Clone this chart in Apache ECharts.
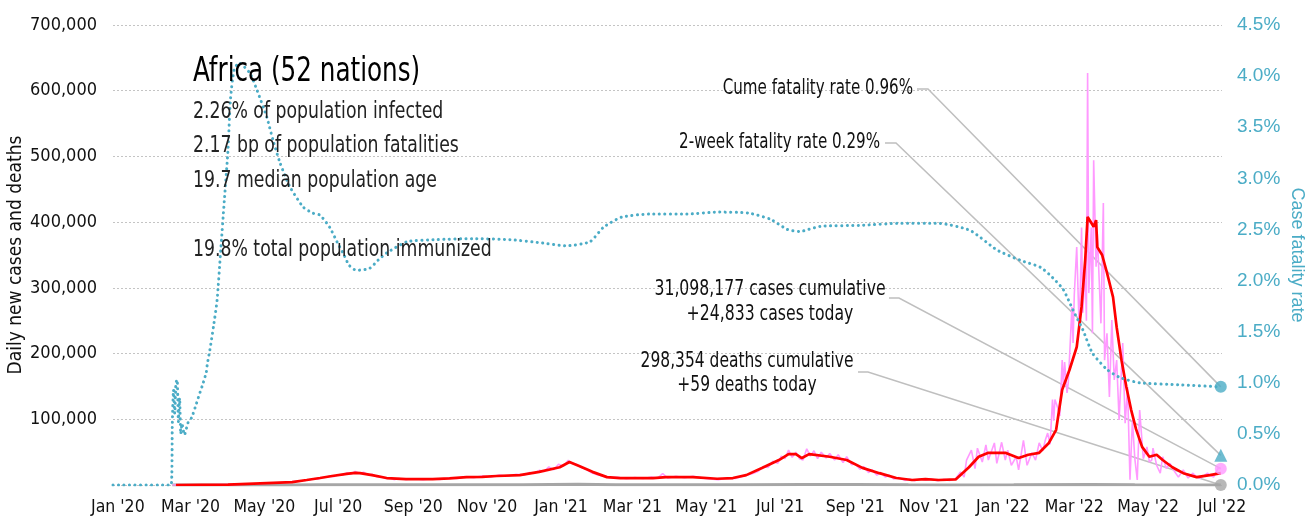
<!DOCTYPE html>
<html>
<head>
<meta charset="utf-8">
<script src="https://cdn.jsdelivr.net/npm/echarts@6/dist/echarts.min.js"></script>
<style>
  html, body { margin: 0; padding: 0; background: #fff; }
  #chart { width: 1310px; height: 522px; }
</style>
</head>
<body>
<div id="chart"></div>
<script>
// ---- Data -------------------------------------------------------------
const regionTitle = 'Africa (52 nations)';
const summaryLines = [
  '2.26% of population infected',
  '2.17 bp of population fatalities',
  '19.7 median population age',
  '',
  '19.8% total population immunized'
];

const lastDate = '2022-06-30';
const cumeRate = 0.96;          // %
const twoWeekRate = 0.29;       // %
const casesCumulative = 31098177;
const casesToday = 24833;
const deathsCumulative = 298354;
const deathsToday = 59;

const tickDates = ['2020-01-01','2020-03-01','2020-05-01','2020-07-01','2020-09-01','2020-11-01',
  '2021-01-01','2021-03-01','2021-05-01','2021-07-01','2021-09-01','2021-11-01',
  '2022-01-01','2022-03-01','2022-05-01','2022-07-01'];
const monthNames = ['Jan','Feb','Mar','Apr','May','Jun','Jul','Aug','Sep','Oct','Nov','Dec'];

// daily new cases
const dailyCases = [
  ['2020-02-15',0],['2020-03-10',100],['2020-03-25',500],['2020-04-08',800],['2020-04-20',1500],
  ['2020-04-29',2200],['2020-05-06',2800],['2020-05-13',3500],['2020-05-20',4200],['2020-05-27',5600],
  ['2020-06-03',6800],['2020-06-07',7600],['2020-06-10',9000],['2020-06-14',8800],['2020-06-17',11000],
  ['2020-06-21',11800],['2020-06-24',13500],['2020-06-28',13200],['2020-07-01',15500],['2020-07-05',15000],
  ['2020-07-08',18500],['2020-07-12',17000],['2020-07-15',20500],['2020-07-19',17500],['2020-07-22',19500],
  ['2020-07-26',15000],['2020-07-29',16500],['2020-08-02',12500],['2020-08-05',13000],['2020-08-09',9800],
  ['2020-08-12',11000],['2020-08-16',8200],['2020-08-20',9800],['2020-08-26',8300],['2020-09-02',9600],
  ['2020-09-09',8200],['2020-09-16',9500],['2020-09-23',8400],['2020-09-30',10600],['2020-10-07',9800],
  ['2020-10-14',12600],['2020-10-21',11200],['2020-10-28',13600],['2020-11-04',12100],['2020-11-11',15200],
  ['2020-11-18',13400],['2020-11-25',16400],['2020-12-02',15300],['2020-12-06',19000],['2020-12-10',17600],
  ['2020-12-14',22300],['2020-12-18',20400],['2020-12-22',27500],['2020-12-26',23200],['2020-12-30',31500],
  ['2021-01-03',28600],['2021-01-07',37500],['2021-01-10',33000],['2021-01-14',31200],['2021-01-18',26500],
  ['2021-01-22',24000],['2021-01-26',18800],['2021-01-30',16200],['2021-02-04',13800],['2021-02-10',11200],
  ['2021-02-17',11800],['2021-02-24',9600],['2021-03-03',11200],['2021-03-10',9900],['2021-03-17',12100],
  ['2021-03-22',10400],['2021-03-26',17500],['2021-03-30',10500],['2021-04-06',13300],['2021-04-13',11000],
  ['2021-04-20',13400],['2021-04-27',10900],['2021-05-04',9200],['2021-05-11',7900],['2021-05-18',10500],
  ['2021-05-25',9800],['2021-06-01',13800],['2021-06-05',15500],['2021-06-09',18000],['2021-06-13',21000],
  ['2021-06-17',28000],['2021-06-21',26500],['2021-06-25',36000],['2021-06-29',33000],['2021-07-02',44000],
  ['2021-07-05',40000],['2021-07-08',53000],['2021-07-11',42000],['2021-07-14',50000],['2021-07-17',40000],
  ['2021-07-20',38000],['2021-07-23',55000],['2021-07-26',44000],['2021-07-29',52000],['2021-08-01',40000],
  ['2021-08-04',50000],['2021-08-08',41000],['2021-08-11',48000],['2021-08-15',38000],['2021-08-18',46000],
  ['2021-08-22',34000],['2021-08-25',43000],['2021-08-29',31000],['2021-09-01',32000],['2021-09-05',24000],
  ['2021-09-08',28000],['2021-09-12',19000],['2021-09-15',23000],['2021-09-19',15000],['2021-09-22',19000],
  ['2021-09-26',12000],['2021-09-29',15000],['2021-10-03',9000],['2021-10-07',11500],['2021-10-12',7000],
  ['2021-10-16',9000],['2021-10-20',6500],['2021-10-25',9500],['2021-10-29',7500],['2021-11-03',9000],
  ['2021-11-08',6500],['2021-11-13',8500],['2021-11-18',7000],['2021-11-23',9500],['2021-11-27',20000],
  ['2021-11-30',12000],['2021-12-02',38000],['2021-12-06',53000],['2021-12-09',25000],['2021-12-11',56000],
  ['2021-12-15',35000],['2021-12-18',61000],['2021-12-20',38000],['2021-12-25',64000],['2021-12-27',33000],
  ['2021-12-31',65000],['2022-01-03',38000],['2022-01-05',53000],['2022-01-08',30000],['2022-01-12',43000],
  ['2022-01-14',23000],['2022-01-18',68000],['2022-01-21',30000],['2022-01-25',49000],['2022-01-28',38000],
  ['2022-01-31',64000],['2022-02-03',52000],['2022-02-05',68000],['2022-02-07',79000],['2022-02-09',62000],
  ['2022-02-11',130000],['2022-02-12',98000],['2022-02-13',130000],['2022-02-15',119000],['2022-02-17',105000],
  ['2022-02-19',190000],['2022-02-20',150000],['2022-02-21',187000],['2022-02-23',140000],['2022-02-24',155000],
  ['2022-02-26',230000],['2022-02-27',271000],['2022-02-28',216000],['2022-03-01',290000],['2022-03-03',362000],
  ['2022-03-05',240000],['2022-03-06',300000],['2022-03-07',392000],['2022-03-08',262000],['2022-03-10',330000],
  ['2022-03-11',250000],['2022-03-12',627000],['2022-03-13',292000],['2022-03-14',340000],['2022-03-15',392000],
  ['2022-03-16',231000],['2022-03-17',494000],['2022-03-19',332000],['2022-03-20',383000],['2022-03-23',246000],
  ['2022-03-25',429000],['2022-03-26',190000],['2022-03-28',231000],['2022-03-30',134000],['2022-04-01',251000],
  ['2022-04-03',160000],['2022-04-05',190000],['2022-04-07',99000],['2022-04-10',216000],['2022-04-12',94000],
  ['2022-04-14',149000],['2022-04-16',8000],['2022-04-18',99000],['2022-04-20',40000],['2022-04-22',7600],
  ['2022-04-24',114000],['2022-04-27',40000],['2022-04-30',58000],['2022-05-02',35000],['2022-05-04',38000],
  ['2022-05-05',56000],['2022-05-08',30000],['2022-05-11',18000],['2022-05-13',43000],['2022-05-16',25000],
  ['2022-05-19',33000],['2022-05-23',20000],['2022-05-26',12000],['2022-05-30',23000],['2022-06-03',10600],
  ['2022-06-07',18000],['2022-06-10',12000],['2022-06-13',10600],['2022-06-16',14000],['2022-06-19',18000],
  ['2022-06-24',12000],['2022-06-28',26000],[lastDate, casesToday]
];

// 7-day average of new cases
const avgCases = [
  ['2020-02-18',0],['2020-04-01',500],['2020-05-03',3000],['2020-05-24',4500],['2020-06-05',7600],
  ['2020-06-16',10600],['2020-06-26',13700],['2020-07-08',17000],['2020-07-15',18500],['2020-07-19',18000],
  ['2020-07-29',15000],['2020-08-10',10600],['2020-08-26',9000],['2020-09-17',8800],['2020-10-01',10000],
  ['2020-10-15',12000],['2020-10-28',12500],['2020-11-09',13700],['2020-11-28',15000],['2020-12-14',20000],
  ['2020-12-31',27000],['2021-01-08',35000],['2021-01-16',29000],['2021-01-27',20000],['2021-02-08',12000],
  ['2021-02-19',10600],['2021-03-18',10600],['2021-03-29',12000],['2021-04-20',12000],['2021-05-10',9500],
  ['2021-05-23',10600],['2021-06-03',15000],['2021-06-16',26000],['2021-06-30',38000],['2021-07-08',47000],
  ['2021-07-14',47000],['2021-07-19',41000],['2021-07-25',47000],['2021-08-11',43000],['2021-08-25',38000],
  ['2021-09-07',26000],['2021-09-21',18000],['2021-10-05',10600],['2021-10-18',7600],['2021-10-29',9000],
  ['2021-11-09',7600],['2021-11-23',8500],['2021-12-04',27000],['2021-12-12',43000],['2021-12-20',49000],
  ['2022-01-03',49000],['2022-01-14',41000],['2022-01-22',46000],['2022-01-31',49000],['2022-02-08',64000],
  ['2022-02-14',84000],['2022-02-19',145000],['2022-02-25',175000],['2022-03-03',210000],['2022-03-07',271000],
  ['2022-03-10',342000],['2022-03-12',408000],['2022-03-15',399000],['2022-03-17',393000],['2022-03-19',403000],
  ['2022-03-20',362000],['2022-03-24',350000],['2022-03-28',323000],['2022-04-02',286000],['2022-04-05',240000],
  ['2022-04-09',190000],['2022-04-13',149000],['2022-04-17',114000],['2022-04-21',85000],['2022-04-26',58000],
  ['2022-05-02',43000],['2022-05-08',46000],['2022-05-13',38000],['2022-05-21',27000],['2022-05-30',18000],
  ['2022-06-10',12000],['2022-06-21',15000],[lastDate,18000]
];

// daily deaths
const dailyDeaths = [
  ['2020-02-15',0],['2020-03-15',3],['2020-04-15',50],['2020-05-15',90],['2020-06-15',250],['2020-07-20',450],
  ['2020-09-01',300],['2020-10-15',200],['2020-12-01',350],['2021-01-15',1000],['2021-02-15',550],
  ['2021-04-01',250],['2021-06-01',230],['2021-07-20',900],['2021-09-01',600],['2021-10-15',250],
  ['2021-11-15',120],['2022-01-10',300],['2022-03-15',900],['2022-04-20',250],[lastDate, deathsToday]
];

// case fatality rate, %
const fatalityRate = [
  ['2019-12-28',0],['2020-02-14',0],['2020-02-15',0.6],['2020-02-16',0.93],['2020-02-17',0.7],
  ['2020-02-18',1.0],['2020-02-19',1.03],['2020-02-20',0.62],['2020-02-21',0.85],['2020-02-22',0.5],
  ['2020-02-23',0.6],['2020-02-25',0.49],['2020-02-28',0.61],['2020-03-02',0.66],['2020-03-06',0.80],
  ['2020-03-09',0.91],['2020-03-11',0.98],['2020-03-14',1.10],['2020-03-15',1.19],['2020-03-17',1.32],
  ['2020-03-20',1.55],['2020-03-23',1.81],['2020-03-26',2.3],['2020-03-29',2.79],['2020-04-01',3.28],
  ['2020-04-03',3.77],['2020-04-06',4.06],['2020-04-10',4.13],['2020-04-19',4.03],['2020-04-25',3.86],
  ['2020-05-03',3.6],['2020-05-08',3.38],['2020-05-14',3.15],['2020-05-22',2.92],['2020-06-02',2.72],
  ['2020-06-10',2.66],['2020-06-16',2.64],['2020-06-24',2.52],['2020-06-30',2.38],['2020-07-05',2.27],
  ['2020-07-10',2.15],['2020-07-16',2.1],['2020-07-27',2.12],['2020-08-03',2.2],['2020-08-10',2.27],
  ['2020-08-27',2.38],['2020-09-20',2.40],['2020-10-20',2.41],['2020-11-20',2.40],['2020-12-15',2.37],
  ['2021-01-05',2.34],['2021-01-25',2.38],['2021-02-05',2.52],['2021-02-20',2.62],['2021-03-15',2.65],
  ['2021-04-15',2.65],['2021-05-10',2.67],['2021-06-05',2.66],['2021-06-23',2.6],['2021-07-07',2.5],
  ['2021-07-17',2.48],['2021-08-03',2.53],['2021-09-05',2.54],['2021-10-08',2.56],['2021-11-09',2.56],
  ['2021-12-05',2.49],['2021-12-27',2.3],['2022-01-15',2.2],['2022-02-01',2.13],['2022-02-11',2.03],
  ['2022-02-20',1.91],['2022-02-28',1.71],['2022-03-08',1.52],['2022-03-16',1.29],['2022-03-28',1.13],
  ['2022-04-08',1.05],['2022-04-24',1.0],['2022-05-27',0.98],[lastDate, cumeRate]
];

// ---- Helpers ----------------------------------------------------------
function ts(s) {
  const [y, m, d] = s.split('-').map(Number);
  return new Date(y, m - 1, d).getTime();
}
const toPoints = arr => arr.map(([d, v]) => [ts(d), v]);
const fmt = n => n.toLocaleString('en-US');

const NARROW = '"Liberation Sans Narrow", "DejaVu Sans Condensed", "Roboto", sans-serif';
const PLAIN = '"Liberation Sans", "Noto Sans", sans-serif';
const TEAL = '#4bacc6';
const PINK = '#ff99ff';
const RED = '#ff0000';
const GREY = '#a6a6a6';
const LEADER = '#bfbfbf';

// ---- Chart ------------------------------------------------------------
const chart = echarts.init(document.getElementById('chart'), null, { renderer: 'canvas' });

chart.setOption({
  animation: false,
  backgroundColor: '#ffffff',
  grid: { left: 113, right: 88, top: 25, bottom: 37, containLabel: false, outerBoundsMode: 'none' },
  xAxis: {
    // dates as millisecond timestamps on a linear scale, labelled at month starts
    type: 'value',
    min: ts('2019-12-28'),
    max: ts('2022-07-01'),
    axisLine: { show: false },
    axisTick: { show: false },
    splitLine: { show: false },
    axisLabel: {
      customValues: tickDates.map(ts),
      formatter: v => {
        const d = new Date(v);
        return monthNames[d.getMonth()] + " '" + String(d.getFullYear()).slice(2);
      },
      fontFamily: NARROW,
      fontSize: 17.5,
      color: '#111',
      margin: 13,
      hideOverlap: false
    }
  },
  yAxis: [
    {
      type: 'value',
      position: 'left',
      min: 0, max: 700000, interval: 100000,
      name: 'Daily new cases and deaths',
      nameLocation: 'middle',
      nameRotate: 90,
      nameGap: 87,
      nameMoveOverlap: false,
      nameTextStyle: { fontFamily: NARROW, fontSize: 19, color: '#111' },
      axisLine: { show: false },
      axisTick: { show: false },
      axisLabel: {
        formatter: v => (v === 0 ? '' : fmt(v)),
        fontFamily: NARROW, fontSize: 18, color: '#111', margin: 16
      },
      splitLine: { show: true, lineStyle: { color: '#c4c4c4', type: [2, 2], width: 1 } }
    },
    {
      type: 'value',
      position: 'right',
      min: 0, max: 4.5, interval: 0.5,
      name: 'Case fatality rate',
      nameLocation: 'middle',
      nameRotate: -90,
      nameGap: 66,
      nameMoveOverlap: false,
      nameTextStyle: { fontFamily: PLAIN, fontSize: 18, color: TEAL },
      axisLine: { show: false },
      axisTick: { show: false },
      axisLabel: {
        formatter: v => v.toFixed(1) + '%',
        fontFamily: PLAIN, fontSize: 19, color: TEAL, margin: 15
      },
      splitLine: { show: false }
    }
  ],
  series: [
    {
      name: 'Daily deaths', type: 'line', yAxisIndex: 0,
      data: toPoints(dailyDeaths), showSymbol: false, silent: true,
      lineStyle: { color: GREY, width: 3 }, z: 2
    },
    {
      name: 'Daily cases', type: 'line', yAxisIndex: 0,
      data: toPoints(dailyCases), showSymbol: false, silent: true,
      lineStyle: { color: PINK, width: 1.6 }, z: 3
    },
    {
      name: '7-day average', type: 'line', yAxisIndex: 0,
      data: toPoints(avgCases), showSymbol: false, silent: true,
      lineStyle: { color: RED, width: 2.7 }, z: 4
    },
    {
      name: 'Case fatality rate', type: 'line', yAxisIndex: 1,
      data: toPoints(fatalityRate), showSymbol: false, silent: true, smooth: 0.2,
      lineStyle: { color: TEAL, width: 3, type: [0.1, 5.4], cap: 'round' }, z: 5
    },
    {
      name: 'Latest', type: 'scatter', yAxisIndex: 1, z: 10, silent: true,
      data: [
        { value: [ts(lastDate), cumeRate], symbol: 'circle', symbolSize: 12, itemStyle: { color: TEAL } },
        { value: [ts(lastDate), twoWeekRate], symbol: 'triangle', symbolSize: 13, itemStyle: { color: TEAL } }
      ]
    },
    {
      name: 'Latest counts', type: 'scatter', yAxisIndex: 0, z: 10, silent: true,
      data: [
        { value: [ts(lastDate), casesToday], symbol: 'circle', symbolSize: 12, itemStyle: { color: PINK } },
        { value: [ts(lastDate), deathsToday], symbol: 'circle', symbolSize: 12, itemStyle: { color: GREY } }
      ]
    }
  ]
});

// ---- Text block and callouts -----------------------------------------
const px = (yAxisIndex, date, val) =>
  chart.convertToPixel({ xAxisIndex: 0, yAxisIndex }, [ts(date), val]);

// condensed text: drawn at (x, y) and squeezed horizontally about that anchor
const textEl = (text, x, y, opts, squeeze) => ({
  type: 'text', z: 20, silent: true,
  x, y, scaleX: squeeze || 0.8,
  style: Object.assign({
    text, x: 0, y: 0,
    fontFamily: NARROW, fontSize: 21, fill: '#111',
    textAlign: 'right', textVerticalAlign: 'middle'
  }, opts || {})
});

const leader = (pts) => ({
  type: 'polyline', z: 1, silent: true,
  shape: { points: pts },
  style: { stroke: LEADER, lineWidth: 1.5, fill: null }
});

const summaryY = [112, 146, 181, 215, 250];
const graphics = [
  textEl(regionTitle, 193, 72, { fontSize: 33, textAlign: 'left', fill: '#000' }, 0.83)
];
summaryLines.forEach((line, i) => {
  if (line) graphics.push(textEl(line, 193, summaryY[i], { fontSize: 23, textAlign: 'left', fill: '#222' }, 0.835));
});

graphics.push(
  textEl('Cume fatality rate ' + cumeRate.toFixed(2) + '%', 913, 89),
  textEl('2-week fatality rate ' + twoWeekRate.toFixed(2) + '%', 880, 143),
  textEl(fmt(casesCumulative) + ' cases cumulative\n+' + fmt(casesToday) + ' cases today', 770, 302,
    { textAlign: 'center', lineHeight: 25 }, 0.83),
  textEl(fmt(deathsCumulative) + ' deaths cumulative\n+' + fmt(deathsToday) + ' deaths today', 747, 374,
    { textAlign: 'center', lineHeight: 24 }, 0.82),
  leader([[917, 89], [928, 89], px(1, lastDate, cumeRate)]),
  leader([[885, 143], [896, 143], px(1, lastDate, twoWeekRate)]),
  leader([[889, 298], [899, 298], px(0, lastDate, casesToday)]),
  leader([[858, 372], [868, 372], px(0, lastDate, deathsToday)])
);

chart.setOption({ graphic: graphics });
</script>
</body>
</html>
